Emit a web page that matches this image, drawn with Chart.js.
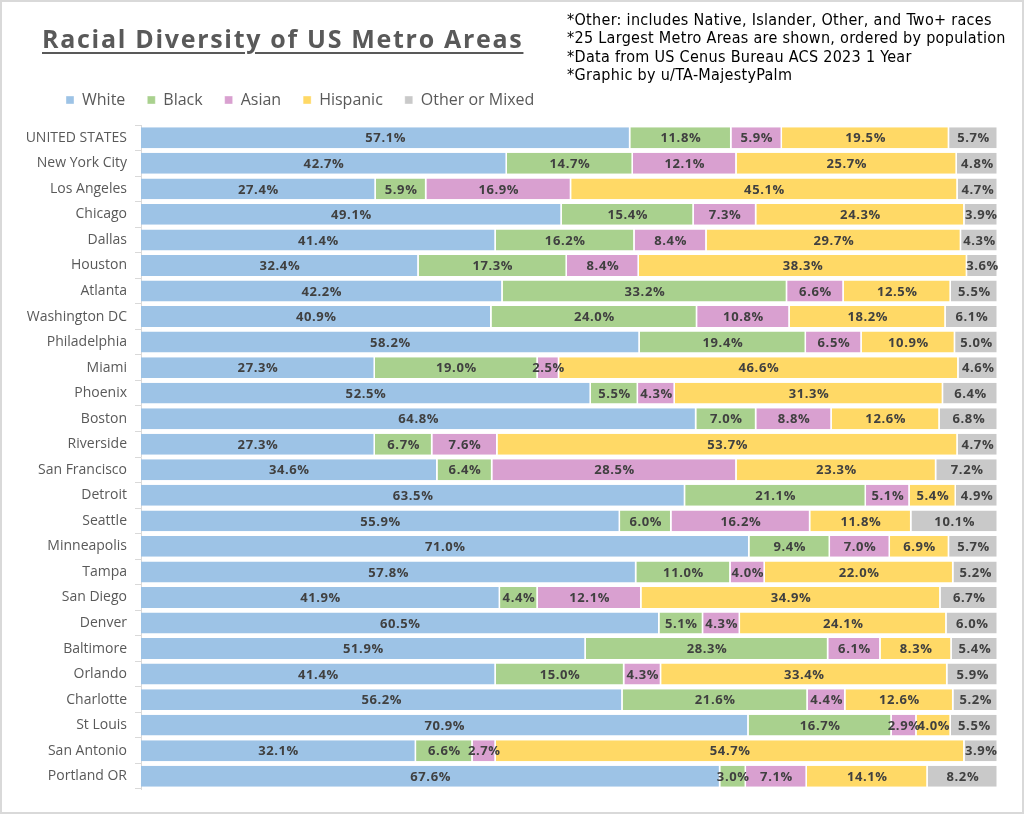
<!DOCTYPE html>
<html>
<head>
<meta charset="utf-8">
<script src="https://cdn.jsdelivr.net/npm/chart.js@4.4.1/dist/chart.umd.min.js"></script>
<style>
  html, body { margin: 0; padding: 0; background: #fff; }
  #wrap { position: relative; width: 1024px; height: 814px; box-sizing: border-box; border: 2px solid #d9d9d9; overflow: hidden; }
  #chart { position: absolute; left: 0; top: 0; }
  .title { position: absolute; left: 40px; top: 24px; font: bold 25px/25px "Open Sans", sans-serif; letter-spacing: 1.7px; color: #595959; text-decoration: underline; text-decoration-thickness: 2px; text-underline-offset: 4px; white-space: nowrap; }
  .notes { position: absolute; left: 565px; top: 9px; font: 16px "DejaVu Sans Condensed", sans-serif; letter-spacing: 0.3px; color: #000; line-height: 18.4px; white-space: nowrap; }
</style>
</head>
<body>
<div id="wrap">
  <canvas id="chart" width="1024" height="814"></canvas>
  <div class="title">Racial Diversity of US Metro Areas</div>
  <div class="notes">
    *Other: includes Native, Islander, Other, and Two+ races<br>
    *25 Largest Metro Areas are shown, ordered by population<br>
    *Data from US Cenus Bureau ACS 2023 1 Year<br>
    *Graphic by u/TA-MajestyPalm
  </div>
</div>
<script>
// metro areas, top to bottom
const metros = ['UNITED STATES', 'New York City', 'Los Angeles', 'Chicago', 'Dallas', 'Houston',
  'Atlanta', 'Washington DC', 'Philadelphia', 'Miami', 'Phoenix', 'Boston', 'Riverside',
  'San Francisco', 'Detroit', 'Seattle', 'Minneapolis', 'Tampa', 'San Diego', 'Denver',
  'Baltimore', 'Orlando', 'Charlotte', 'St Louis', 'San Antonio', 'Portland OR'];

// shares in %
const white    = [57.1, 42.7, 27.4, 49.1, 41.4, 32.4, 42.2, 40.9, 58.2, 27.3, 52.5, 64.8, 27.3, 34.6, 63.5, 55.9, 71.0, 57.8, 41.9, 60.5, 51.9, 41.4, 56.2, 70.9, 32.1, 67.6];
const black    = [11.8, 14.7, 5.9, 15.4, 16.2, 17.3, 33.2, 24.0, 19.4, 19.0, 5.5, 7.0, 6.7, 6.4, 21.1, 6.0, 9.4, 11.0, 4.4, 5.1, 28.3, 15.0, 21.6, 16.7, 6.6, 3.0];
const asian    = [5.9, 12.1, 16.9, 7.3, 8.4, 8.4, 6.6, 10.8, 6.5, 2.5, 4.3, 8.8, 7.6, 28.5, 5.1, 16.2, 7.0, 4.0, 12.1, 4.3, 6.1, 4.3, 4.4, 2.9, 2.7, 7.1];
const hispanic = [19.5, 25.7, 45.1, 24.3, 29.7, 38.3, 12.5, 18.2, 10.9, 46.6, 31.3, 12.6, 53.7, 23.3, 5.4, 11.8, 6.9, 22.0, 34.9, 24.1, 8.3, 33.4, 12.6, 4.0, 54.7, 14.1];
const other    = [5.7, 4.8, 4.7, 3.9, 4.3, 3.6, 5.5, 6.1, 5.0, 4.6, 6.4, 6.8, 4.7, 7.2, 4.9, 10.1, 5.7, 5.2, 6.7, 6.0, 5.4, 5.9, 5.2, 5.5, 3.9, 8.2];

const groups = ['White', 'Black', 'Asian', 'Hispanic', 'Other or Mixed'];
const colors = ['#9dc3e6', '#a9d18e', '#d9a0d0', '#ffd966', '#c9c9c9'];
const series = [white, black, asian, hispanic, other];

// prints the value in the middle of every segment
const segmentLabels = {
  id: 'segmentLabels',
  afterDatasetsDraw(chart) {
    const ctx = chart.ctx;
    ctx.save();
    ctx.font = 'bold 13px "Open Sans", sans-serif';
    ctx.letterSpacing = '0.6px';
    ctx.fillStyle = '#404040';
    ctx.textAlign = 'center';
    ctx.textBaseline = 'middle';
    chart.data.datasets.forEach((ds, i) => {
      chart.getDatasetMeta(i).data.forEach((bar, j) => {
        const p = bar.getCenterPoint();
        ctx.fillText(ds.data[j].toFixed(1) + '%', p.x, p.y + 1);
      });
    });
    ctx.restore();
  }
};

// the legend sits further right than the y axis box
const legendShift = {
  id: 'legendShift',
  afterLayout(chart) { chart.legend.left += 38; }
};

new Chart(document.getElementById('chart'), {
  type: 'bar',
  data: {
    labels: metros,
    datasets: groups.map((g, i) => ({
      label: g,
      data: series[i],
      backgroundColor: colors[i],
      borderColor: '#ffffff',
      borderWidth: { right: 1.5 },
      borderSkipped: false,
      barPercentage: 1,
      categoryPercentage: 0.82,
    })),
  },
  options: {
    indexAxis: 'y',
    responsive: false,
    animation: false,
    layout: { padding: { left: 4, right: 28, top: 68, bottom: 27 } },
    plugins: {
      legend: {
        position: 'top',
        align: 'start',
        labels: {
          boxWidth: 8,
          boxHeight: 8,
          padding: 22,
          color: '#595959',
          font: { size: 16, family: '"Open Sans", sans-serif' },
        },
      },
      tooltip: { enabled: false },
    },
    scales: {
      x: {
        stacked: true, min: 0, max: 100, position: 'top',
        grid: { display: false }, border: { display: false }, ticks: { display: false },
        afterFit(scale) { scale.height = 7; },
      },
      y: {
        stacked: true,
        grid: { display: true, drawOnChartArea: false, offset: true, tickLength: 6, color: '#d9d9d9' },
        border: { color: '#d9d9d9' },
        ticks: { color: '#595959', padding: 8, font: { size: 14, family: '"Open Sans", sans-serif' } },
        afterFit(scale) { scale.width = 135; },
      },
    },
  },
  plugins: [segmentLabels, legendShift],
});
</script>
</body>
</html>
